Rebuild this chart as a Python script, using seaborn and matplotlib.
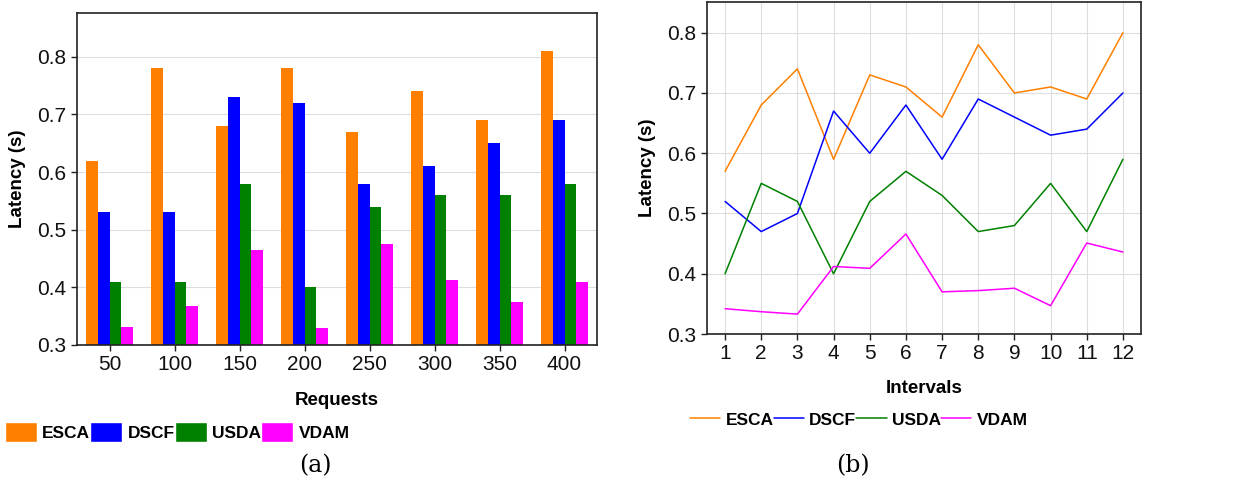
import numpy as np
import pandas as pd
import matplotlib
matplotlib.use("Agg")
import matplotlib.pyplot as plt
import seaborn as sns
from matplotlib.patches import Patch
from matplotlib.lines import Line2D

# Data
methods = ["ESCA", "DSCF", "USDA", "VDAM"]
colors = ["#ff8000", "#0000ff", "#008000", "#ff00ff"]

requests = [50, 100, 150, 200, 250, 300, 350, 400]
esca_req = [0.62, 0.78, 0.68, 0.78, 0.67, 0.74, 0.69, 0.81]
dscf_req = [0.53, 0.53, 0.73, 0.72, 0.58, 0.61, 0.65, 0.69]
usda_req = [0.41, 0.41, 0.58, 0.40, 0.54, 0.56, 0.56, 0.58]
vdam_req = [0.331, 0.368, 0.465, 0.330, 0.476, 0.413, 0.375, 0.410]

intervals = list(range(1, 13))
esca_int = [0.57, 0.68, 0.74, 0.59, 0.73, 0.71, 0.66, 0.78, 0.70, 0.71, 0.69, 0.80]
dscf_int = [0.52, 0.47, 0.50, 0.67, 0.60, 0.68, 0.59, 0.69, 0.66, 0.63, 0.64, 0.70]
usda_int = [0.40, 0.55, 0.52, 0.40, 0.52, 0.57, 0.53, 0.47, 0.48, 0.55, 0.47, 0.59]
vdam_int = [0.342, 0.337, 0.333, 0.412, 0.409, 0.466, 0.370, 0.372, 0.376, 0.347, 0.451, 0.436]

req_df = pd.DataFrame({"Requests": requests, "ESCA": esca_req, "DSCF": dscf_req,
                       "USDA": usda_req, "VDAM": vdam_req})
req_df = req_df.melt(id_vars="Requests", var_name="Method", value_name="Latency")

int_df = pd.DataFrame({"Intervals": intervals, "ESCA": esca_int, "DSCF": dscf_int,
                       "USDA": usda_int, "VDAM": vdam_int})
int_df = int_df.melt(id_vars="Intervals", var_name="Method", value_name="Latency")

sns.set_style("whitegrid", {"grid.color": "#dddddd", "axes.edgecolor": "#222222",
                            "text.color": "black", "axes.labelcolor": "black",
                            "xtick.color": "black", "ytick.color": "black"})
plt.rcParams["font.family"] = ["Liberation Sans", "DejaVu Sans"]

W, H = 1235, 486
fig = plt.figure(figsize=(W / 100, H / 100), dpi=100)
ax1 = fig.add_axes([77 / W, (H - 345) / H, 520 / W, 332 / H])
ax2 = fig.add_axes([707 / W, (H - 334) / H, 434 / W, 332 / H])

# (a) bar chart
sns.barplot(data=req_df, x="Requests", y="Latency", hue="Method", palette=colors,
            width=0.71, saturation=1, linewidth=0, ax=ax1, legend=False)
ax1.set_ylim(0.3, 0.876)
ax1.set_xlim(-0.5, 7.5)
ax1.set_yticks([0.3, 0.4, 0.5, 0.6, 0.7, 0.8])
ax1.set_ylabel("Latency (s)", fontsize=13.5, fontweight="bold", labelpad=8)
ax1.set_xlabel("Requests", fontsize=13.5, fontweight="bold", labelpad=13)

# (b) line chart
sns.lineplot(data=int_df, x="Intervals", y="Latency", hue="Method", palette=colors,
             linewidth=1.1, ax=ax2, legend=False)
ax2.set_ylim(0.3, 0.851)
ax2.set_xlim(0.5, 12.5)
ax2.set_xticks(intervals)
ax2.set_yticks([0.3, 0.4, 0.5, 0.6, 0.7, 0.8])
ax2.set_ylabel("Latency (s)", fontsize=13.5, fontweight="bold", labelpad=8)
ax2.set_xlabel("Intervals", fontsize=13.5, fontweight="bold", labelpad=12)

for ax in (ax1, ax2):
    ax.tick_params(axis="both", labelsize=15, length=4, width=1, color="#222222",
                   bottom=True, left=True, labelcolor="#111111")
    ax.set_axisbelow(True)
    for sp in ax.spines.values():
        sp.set_linewidth(1.2)
        sp.set_visible(True)

# legends
bar_handles = [Patch(facecolor=c, label=m) for m, c in zip(methods, colors)]
fig.legend(handles=bar_handles, loc="center left", bbox_to_anchor=(5 / W, 1 - 432 / H),
           ncol=4, frameon=False, borderpad=0, borderaxespad=0,
           handlelength=1.85, handleheight=1.45, handletextpad=0.3,
           columnspacing=0.0, prop={"weight": "bold", "size": 12.5})
line_handles = [Line2D([], [], color=c, linewidth=1.1, label=m) for m, c in zip(methods, colors)]
fig.legend(handles=line_handles, loc="center left", bbox_to_anchor=(690 / W, 1 - 420 / H),
           ncol=4, frameon=False, borderpad=0, borderaxespad=0,
           handlelength=1.75, handletextpad=0.3,
           columnspacing=0.0, prop={"weight": "bold", "size": 12.5})

fig.text(315 / W, 1 - 466 / H, "(a)", ha="center", va="center", fontsize=17, family="DejaVu Serif")
fig.text(853 / W, 1 - 466 / H, "(b)", ha="center", va="center", fontsize=17, family="DejaVu Serif")

fig.savefig("out.png", dpi=100)
